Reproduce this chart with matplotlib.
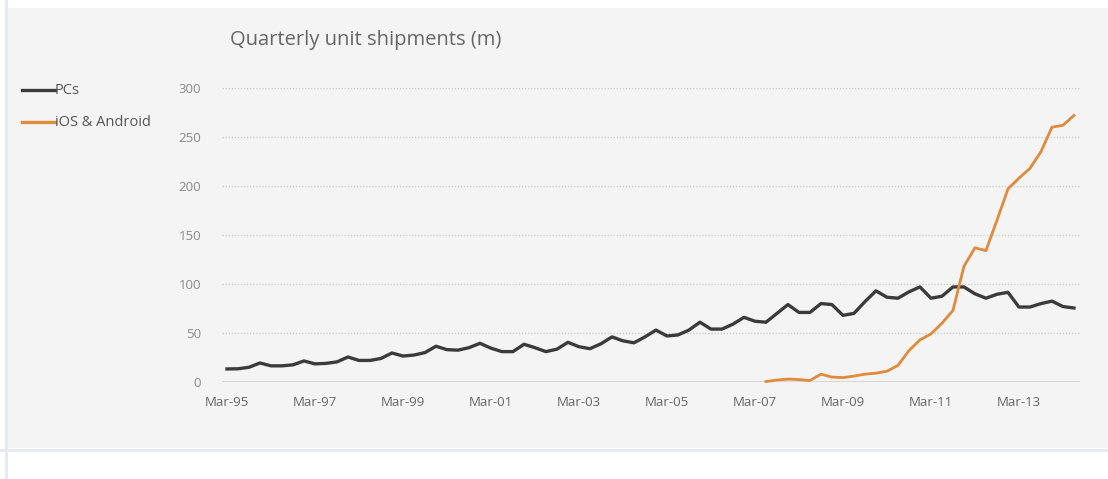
import matplotlib.pyplot as plt
from matplotlib.lines import Line2D
from matplotlib.patches import Rectangle

plt.rcParams['font.family'] = ['Open Sans', 'DejaVu Sans']

# quarterly, Mar-95 .. Jun-14
pcs = [13.3, 13.5, 15, 19.4, 16.5, 16.5, 17.5, 21.5,
       18.5, 19, 20.5, 25.5, 22, 22, 24, 29.6,
       26.5, 27.5, 30, 36.5, 33, 32.5, 35, 39.5,
       34.5, 31, 31, 38.5, 35, 31, 33.5, 40.5,
       36, 34, 39, 46, 42, 40, 46, 53,
       47, 48, 53, 61, 54, 54, 59, 66,
       62, 61, 70, 79, 71, 71, 80, 79,
       68, 70, 82, 93, 86.5, 85.5, 92, 97,
       85.5, 87.5, 97, 97, 90, 85.5, 89.5, 91.5,
       76.5, 76.5, 80, 82.5, 77, 75.5]

mobile_start = 49
mobile = [0.5, 2, 3, 2.5, 1.5, 8, 5, 4.5, 6, 8, 9, 11, 17,
          32, 43, 49, 60, 73, 118, 137, 134, 165, 197,
          208, 218, 235, 260, 262, 272]

tick_labels = ["Mar-95", "Mar-97", "Mar-99", "Mar-01", "Mar-03",
               "Mar-05", "Mar-07", "Mar-09", "Mar-11", "Mar-13"]
y_ticks = [0, 50, 100, 150, 200, 250, 300]

fig = plt.figure(figsize=(11.08, 4.79), dpi=100)
fig.patch.set_facecolor("white")

# grey card behind the chart
fig.patches.append(Rectangle((7 / 1108, 1 - 448 / 479), 1, (448 - 8) / 479,
                             transform=fig.transFigure, facecolor="#f4f4f4",
                             edgecolor="none", zorder=-2))
fig.add_artist(Line2D([0, 1], [1 - 450 / 479] * 2, color="#e4eaee", lw=2))
fig.add_artist(Line2D([5.5 / 1108] * 2, [0, 1], color="#e4eaee", lw=2))

ax = fig.add_axes([222 / 1108, 1 - 382 / 479, (1080 - 222) / 1108, (382 - 88) / 479])
ax.set_facecolor("none")

x_pc = list(range(len(pcs)))
x_mob = list(range(mobile_start, mobile_start + len(mobile)))
ax.plot(x_pc, pcs, color="#3b3b3b", lw=2.4, solid_joinstyle="round", clip_on=False, zorder=3)
ax.plot(x_mob, mobile, color="#e08a3c", lw=2.0, solid_joinstyle="round", clip_on=False, zorder=4)

ax.set_xlim(-0.45, 77.55)
ax.set_ylim(0, 300)
for v in y_ticks[1:]:
    ax.axhline(v, color="#cfcfcf", lw=1.0, linestyle=(0, (1, 1.2)), zorder=1)
ax.axhline(0, color="#d4d4d4", lw=2.0, zorder=2)

ax.set_yticks(y_ticks)
ax.set_yticklabels([str(v) for v in y_ticks])
ax.set_xticks(list(range(0, 73, 8)))
ax.set_xticklabels(tick_labels)
ax.tick_params(axis="y", length=0, pad=15, labelsize=9.5, labelcolor="#8a8a8a")
ax.tick_params(axis="x", length=0, pad=10, labelsize=9.5, labelcolor="#666666")
for s in ax.spines.values():
    s.set_visible(False)

fig.text(230 / 1108, 1 - 40 / 479, "Quarterly unit shipments (m)", fontsize=14.5,
         color="#666666", va="center", ha="left")

# legend drawn by hand at the left
for yy, col, label in [(90, "#3b3b3b", "PCs"), (122, "#e08a3c", "iOS & Android")]:
    fig.add_artist(Line2D([22 / 1108, 55 / 1108], [1 - yy / 479] * 2, color=col, lw=2.4))
    fig.text(55 / 1108, 1 - (yy + 1) / 479, label, fontsize=10.5, color="#555555",
             va="center", ha="left")

fig.savefig("out.png", dpi=100, facecolor=fig.get_facecolor())
